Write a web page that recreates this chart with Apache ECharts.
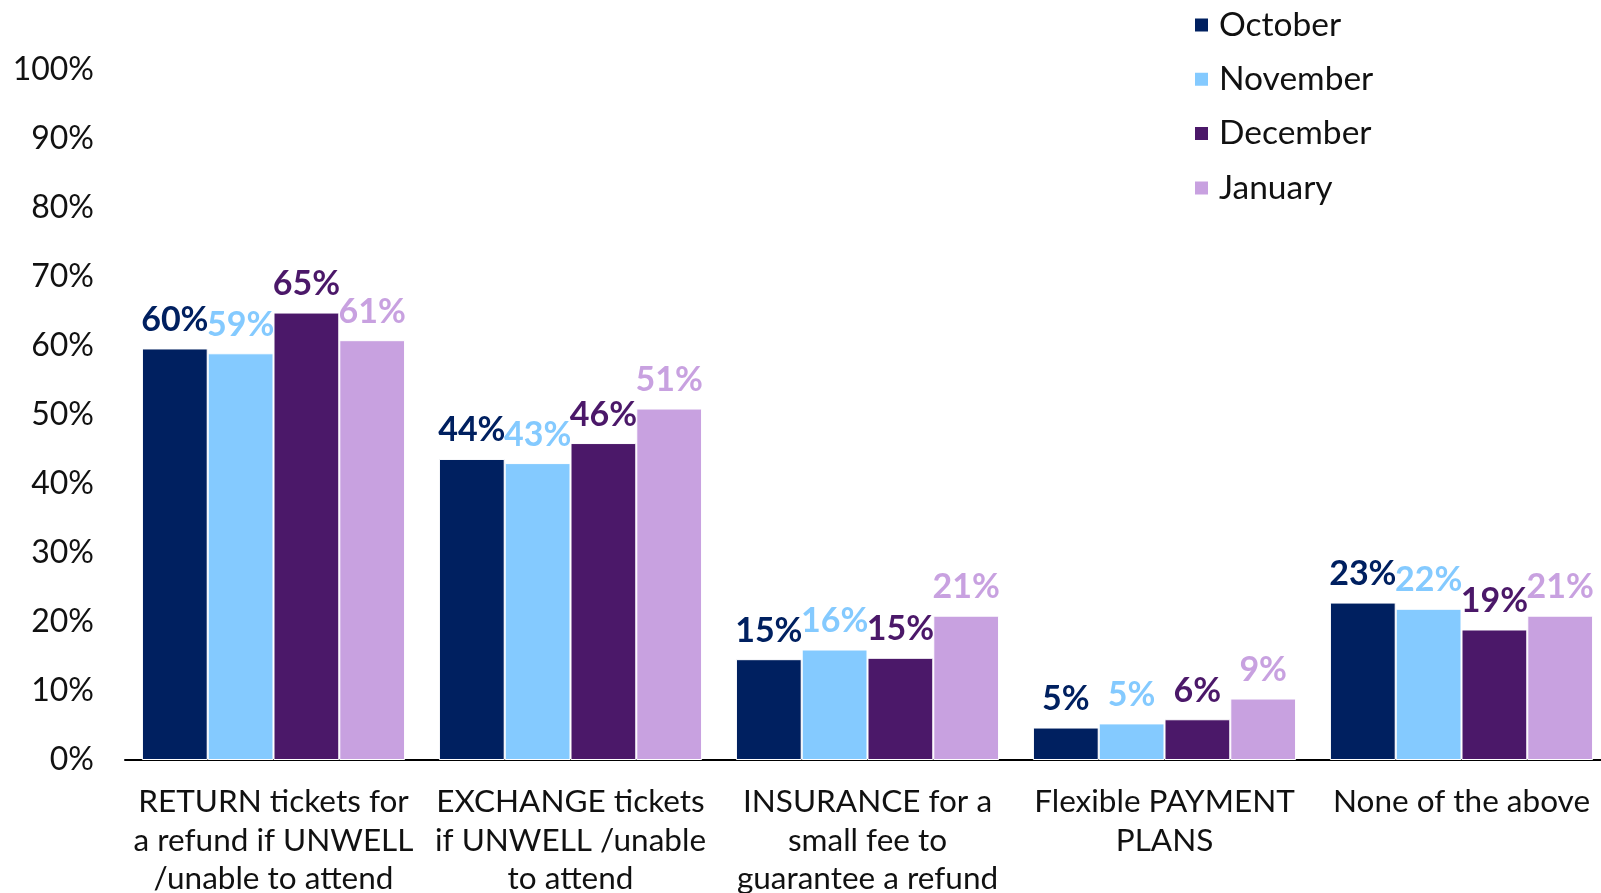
<!DOCTYPE html>
<html>
<head>
<meta charset="utf-8">
<script src="https://cdn.jsdelivr.net/npm/echarts@6/dist/echarts.min.js"></script>
<style>
html,body{margin:0;padding:0;background:#fff;}
#chart{width:1601px;height:893px;}
</style>
</head>
<body>
<div id="chart"></div>
<script>
const categories = [
  "RETURN tickets for\na refund if UNWELL\n/unable to attend",
  "EXCHANGE tickets\nif UNWELL /unable\nto attend",
  "INSURANCE for a\nsmall fee to\nguarantee a refund",
  "Flexible PAYMENT\nPLANS",
  "None of the above"
];
const seriesNames = ["October", "November", "December", "January"];
const october  = [59.6, 43.6, 14.6, 4.7, 22.8];
const november = [58.9, 43.0, 16.0, 5.3, 21.9];
const december = [64.8, 45.9, 14.8, 5.9, 18.9];
const january  = [60.8, 50.9, 20.9, 8.9, 20.9];
const yTicks = [0, 10, 20, 30, 40, 50, 60, 70, 80, 90, 100];
const colors = ["#002060", "#84CAFF", "#4B1869", "#C8A1E0"];

const values = [october, november, december, january];
const FONT = "Lato";

const chart = echarts.init(document.getElementById('chart'));
chart.setOption({
  animation: false,
  textStyle: { fontFamily: FONT },
  grid: { left: 125, right: -9, top: 69.5, bottom: 133, containLabel: false, outerBoundsMode: 'none' },
  legend: {
    orient: 'vertical',
    left: 1188,
    top: 3,
    itemWidth: 15,
    itemHeight: 15,
    itemGap: 20.3,
    icon: 'rect',
    textStyle: { fontSize: 33.5, lineHeight: 33, color: '#111', fontFamily: FONT, padding: [0, 0, 0, 5] },
    data: seriesNames
  },
  xAxis: {
    type: 'category',
    data: categories,
    axisLine: { lineStyle: { color: '#000', width: 2 } },
    axisTick: { show: false },
    axisLabel: { fontSize: 31.5, color: '#111', lineHeight: 38.5, margin: 23, interval: 0, fontFamily: FONT }
  },
  yAxis: {
    type: 'value',
    min: yTicks[0],
    max: yTicks[yTicks.length - 1],
    interval: 10,
    splitLine: { show: false },
    axisLine: { show: false },
    axisTick: { show: false },
    axisLabel: { fontSize: 32, color: '#111', margin: 31, formatter: v => v + '%', fontFamily: FONT }
  },
  series: seriesNames.map((name, i) => ({
    name: name,
    type: 'bar',
    data: values[i],
    barGap: '0%',
    barCategoryGap: '11.4%',
    itemStyle: { color: colors[i], borderColor: '#fff', borderWidth: 1 },
    label: {
      show: true,
      position: 'top',
      distance: 11.5,
      fontSize: 34,
      fontWeight: 'bold',
      fontFamily: FONT,
      color: colors[i],
      formatter: p => Math.round(p.value) + '%'
    }
  }))
});
</script>
</body>
</html>
